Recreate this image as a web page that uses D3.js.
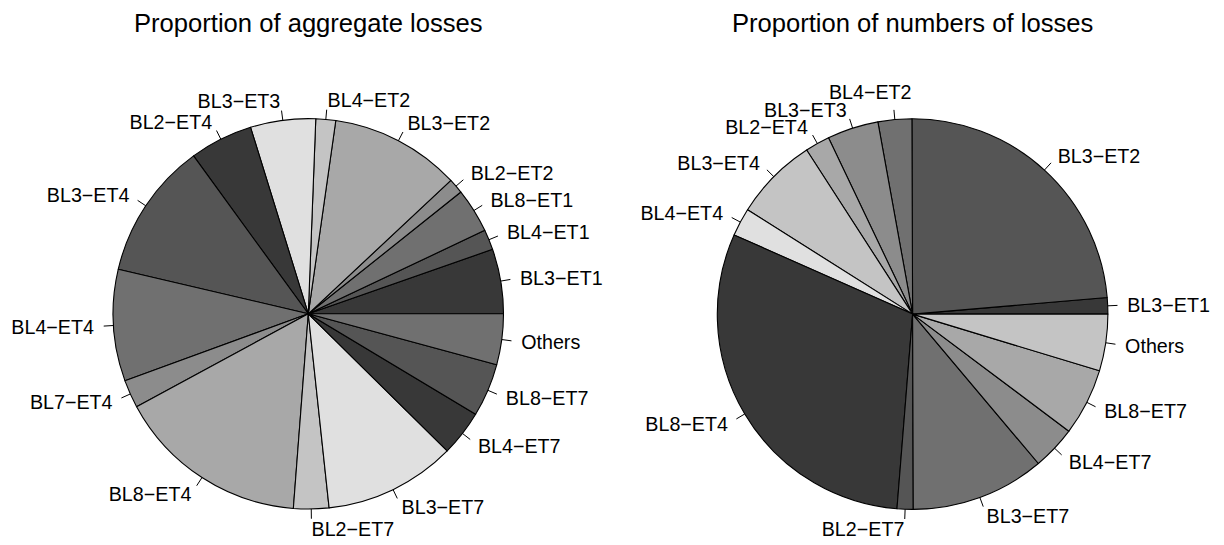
<!DOCTYPE html>
<html>
<head>
<meta charset="utf-8">
<script src="https://cdn.jsdelivr.net/npm/d3@7"></script>
<style>
  html, body { margin: 0; padding: 0; background: #fff; }
  svg text { font-family: "Liberation Sans", Arial, Helvetica, sans-serif; fill: #000; }
</style>
</head>
<body>
<svg id="chart" width="1224" height="545"></svg>
<script>
// ---- Data (percentages) ----
const aggCategories = ["BL3-ET1","BL4-ET1","BL8-ET1","BL2-ET2","BL3-ET2","BL4-ET2","BL3-ET3","BL2-ET4","BL3-ET4","BL4-ET4","BL7-ET4","BL8-ET4","BL2-ET7","BL3-ET7","BL4-ET7","BL8-ET7","Others"];
const aggValues     = [5.36, 1.67, 3.69, 1.25, 10.78, 1.64, 5.39, 5.22, 11.33, 9.25, 2.31, 15.89, 2.92, 10.90, 3.79, 4.40, 4.21];

const numCategories = ["BL3-ET1","BL3-ET2","BL4-ET2","BL3-ET3","BL2-ET4","BL3-ET4","BL4-ET4","BL8-ET4","BL2-ET7","BL3-ET7","BL4-ET7","BL8-ET7","Others"];
const numValues     = [1.35, 23.70, 2.79, 4.24, 2.04, 6.90, 2.33, 30.36, 1.33, 11.08, 3.63, 5.54, 4.69];

const titles = ["Proportion of aggregate losses", "Proportion of numbers of losses"];

// grey palette cycled like R's col vector
const palette = ["#383838","#555555","#707070","#8c8c8c","#a8a8a8","#c4c4c4","#e0e0e0"];

const svg = d3.select("#chart");

function drawPie(cx, cy, r, cats, vals, title, nudges) {
  const g = svg.append("g").attr("transform", `translate(${cx},${cy})`);
  const data = cats.map((c, i) => ({ key: c, label: c.replace("-", "\u2212"), value: vals[i], i }));
  // R pie: counter-clockwise starting at 3 o'clock
  const pie = d3.pie().sort(null).value(d => d.value)
    .startAngle(Math.PI / 2).endAngle(Math.PI / 2 - 2 * Math.PI);
  const arcs = pie(data);
  const arc = d3.arc().innerRadius(0).outerRadius(r);
  const color = d3.scaleOrdinal().domain(d3.range(palette.length)).range(palette);

  g.selectAll("path.slice").data(arcs).join("path")
    .attr("class", "slice")
    .attr("d", arc)
    .attr("fill", d => color(d.data.i % palette.length))
    .attr("stroke", "#000")
    .attr("stroke-width", 1.1)
    .attr("stroke-linejoin", "round");

  const mid = d => (d.startAngle + d.endAngle) / 2;
  const nd = d => (nudges && nudges[d.data.key]) || [0, 0];
  g.selectAll("line.tick").data(arcs).join("line")
    .attr("class", "tick")
    .attr("x1", d => Math.sin(mid(d)) * r)
    .attr("y1", d => -Math.cos(mid(d)) * r)
    .attr("x2", d => Math.sin(mid(d)) * r * 1.05)
    .attr("y2", d => -Math.cos(mid(d)) * r * 1.05)
    .attr("stroke", "#000").attr("stroke-width", 1);

  g.selectAll("text.lab").data(arcs).join("text")
    .attr("class", "lab")
    .attr("x", d => Math.sin(mid(d)) * r * 1.1 + nd(d)[0])
    .attr("y", d => -Math.cos(mid(d)) * r * 1.1 + nd(d)[1])
    .attr("dy", "0.36em")
    .attr("text-anchor", d => Math.sin(mid(d)) < 0 ? "end" : "start")
    .style("font-size", "19.7px")
    .text(d => d.data.label);

  svg.append("text")
    .attr("x", cx).attr("y", 32)
    .attr("text-anchor", "middle")
    .style("font-size", "25.6px")
    .text(title);
}

drawPie(308.3, 313.8, 195.2, aggCategories, aggValues, titles[0], null);
drawPie(912.6, 314.1, 195.3, numCategories, numValues, titles[1], { "BL4-ET2": [18.5, -8] });
</script>
</body>
</html>
